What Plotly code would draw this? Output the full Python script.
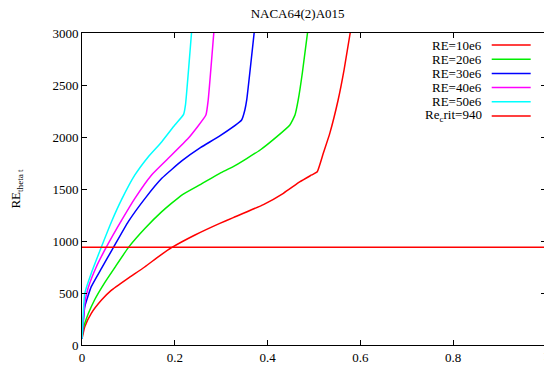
import plotly.graph_objects as go

# RE = 10e6
x10 = [0.0, 0.006, 0.02, 0.042, 0.063, 0.099, 0.135, 0.165, 0.193, 0.2435, 0.297, 0.326, 0.391, 0.434, 0.47, 0.495, 0.507, 0.52, 0.534, 0.552, 0.565, 0.578]
y10 = [60, 176, 305, 433, 525, 640, 750, 850, 936, 1058, 1170, 1225, 1350, 1459, 1570, 1635, 1666, 1843, 2035, 2356, 2650, 3000]
# RE = 20e6
x20 = [0.0, 0.002, 0.013, 0.027, 0.049, 0.07, 0.0998, 0.136, 0.172, 0.215, 0.256, 0.297, 0.326, 0.384, 0.42, 0.448, 0.459, 0.466, 0.475, 0.486]
y20 = [60, 144, 295, 433, 600, 740, 936, 1122, 1282, 1442, 1545, 1651, 1715, 1875, 2003, 2115, 2211, 2356, 2620, 3000]
# RE = 30e6
x30 = [0.0, 0.006, 0.02, 0.042, 0.0675, 0.0998, 0.136, 0.172, 0.215, 0.256, 0.297, 0.344, 0.351, 0.355, 0.371]
y30 = [60, 368, 561, 737, 936, 1186, 1410, 1603, 1770, 1900, 2010, 2163, 2260, 2356, 3000]
# RE = 40e6
x40 = [0.0, 0.006, 0.013, 0.031, 0.053, 0.0855, 0.114, 0.150, 0.186, 0.229, 0.267, 0.272, 0.284]
y40 = [60, 400, 545, 753, 945, 1200, 1410, 1635, 1795, 1987, 2211, 2356, 3000]
# RE = 50e6
x50 = [0.0, 0.006, 0.02, 0.042, 0.064, 0.0855, 0.114, 0.143, 0.172, 0.2, 0.219, 0.223, 0.236]
y50 = [60, 497, 690, 945, 1190, 1400, 1635, 1811, 1955, 2115, 2218, 2308, 3000]
# critical value
xcrit = [0.0, 1.0]
ycrit = [940, 940]

x_tickvals = [0, 0.2, 0.4, 0.6, 0.8, 1]
x_ticktext = ["0", "0.2", "0.4", "0.6", "0.8", "1"]
y_tickvals = [0, 500, 1000, 1500, 2000, 2500, 3000]

names = ["RE=10e6", "RE=20e6", "RE=30e6", "RE=40e6", "RE=50e6", "Re<sub>c</sub>rit=940"]
colors = ["#ff0000", "#00ee00", "#0000ff", "#ff00ff", "#00ffff", "#ff0000"]
xs_all = [x10, x20, x30, x40, x50, xcrit]
ys_all = [y10, y20, y30, y40, y50, ycrit]

FONT = "Liberation Serif, Times New Roman, serif"
font = dict(family=FONT, size=13, color="black")

fig = go.Figure()
for name, xs, ys, col in zip(names, xs_all, ys_all, colors):
    fig.add_trace(go.Scatter(x=xs, y=ys, mode="lines", name=name,
                             line=dict(color=col, width=1.5, shape="spline", smoothing=0.4),
                             showlegend=False, cliponaxis=True))

# manual gnuplot-style legend: text right-aligned, sample line on the right
for i, (name, col) in enumerate(zip(names, colors)):
    yp = 0.9615 - i * 0.0455
    fig.add_annotation(x=0.866, y=yp, xref="paper", yref="paper", text=name,
                       showarrow=False, xanchor="right", yanchor="middle",
                       font=font)
    fig.add_shape(type="line", xref="paper", yref="paper", x0=0.883, x1=0.967,
                  y0=yp, y1=yp, line=dict(color=col, width=1.5))

# the last x tick label sits on the axis end; draw it explicitly so it is not culled
fig.add_annotation(x=x_tickvals[-1], y=0, xref="x", yref="paper", text=x_ticktext[-1],
                   showarrow=False, xanchor="center", yanchor="top", yshift=-1,
                   font=font)

axis_common = dict(showgrid=False, zeroline=False, showline=True, linecolor="black",
                   linewidth=1, mirror="ticks", ticks="inside", ticklen=5,
                   tickcolor="black", tickfont=font, automargin=False,
                   ticklabeloverflow="allow")

# the page body adds an 8px offset, so the figure is sized to compensate
fig.update_layout(
    width=560, height=357,
    margin=dict(l=74, r=22, t=25, b=20, autoexpand=False),
    paper_bgcolor="white", plot_bgcolor="white",
    font=font,
    title=dict(text="NACA64(2)A015", x=289.6 / 560, xref="container", xanchor="center",
               y=0.984, yref="container", yanchor="middle", font=font),
    xaxis=dict(range=[0, 1], tickvals=x_tickvals[:-1], ticktext=x_ticktext[:-1], **axis_common),
    yaxis=dict(range=[0, 3000], tickvals=y_tickvals,
               title=dict(text="RE<sub>theta t</sub>", standoff=31, font=font),
               **axis_common),
    showlegend=False,
)

fig.write_html("out.html")
